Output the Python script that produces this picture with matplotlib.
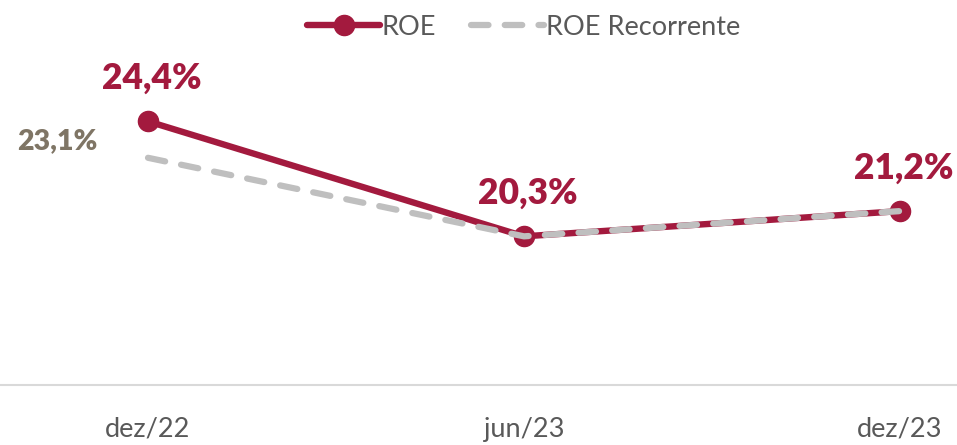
import matplotlib
matplotlib.use("Agg")
import matplotlib.pyplot as plt

categories = ["dez/22", "jun/23", "dez/23"]
roe = [24.4, 20.3, 21.2]
roe_rec = [23.1, 20.3, 21.2]
roe_labels = ["24,4%", "20,3%", "21,2%"]
rec_label = "23,1%"

RED = "#A31A3E"
GRAY = "#BFBFBF"
TXT = "#595959"
LBL2 = "#7F7565"

plt.rcParams['font.family'] = ['Lato', 'DejaVu Sans']

fig = plt.figure(figsize=(9.57, 4.45), dpi=100)
ax = fig.add_axes([0, 60/445, 1, 385/445])
x = list(range(len(categories)))

ax.plot(x, roe, color=RED, lw=4.6, marker='o', markersize=14.5, solid_capstyle='round',
        label="ROE", zorder=2)
ax.plot(x, roe_rec, color=GRAY, lw=4.5, dashes=(2.8, 2.6), dash_capstyle='round',
        solid_capstyle='round', label="ROE Recorrente", zorder=3)

ax.set_xlim(-148/376, 2 + 57/376)
ax.set_ylim(15.0, 15.0 + 385/28.05)

for i, (v, t) in enumerate(zip(roe, roe_labels)):
    ax.annotate(t, (i, v), xytext=(2.5, 31), textcoords='offset points', ha='center', va='center',
                color=RED, fontsize=25.5, fontweight='heavy')
ax.annotate(rec_label, (0, roe_rec[0]), xytext=(-65, 12), textcoords='offset points',
            ha='center', va='center', color=LBL2, fontsize=20.5, fontweight='heavy')

for s in ['top', 'right', 'left']:
    ax.spines[s].set_visible(False)
ax.spines['bottom'].set_color('#D9D9D9')
ax.spines['bottom'].set_linewidth(1.5)
ax.set_yticks([])
ax.set_xticks(x)
ax.set_xticklabels(categories, fontsize=19.5, color=TXT)
ax.tick_params(axis='x', length=0, pad=23)

h, l = ax.get_legend_handles_labels()
leg = ax.legend(h, l, loc='upper center', bbox_to_anchor=(0.547, 1.0),
                ncol=2, frameon=False, fontsize=19.5, handlelength=2.7, handletextpad=0.05,
                columnspacing=1.3, borderaxespad=0.15)
for t in leg.get_texts():
    t.set_color(TXT)

fig.savefig("out.png", dpi=100)
